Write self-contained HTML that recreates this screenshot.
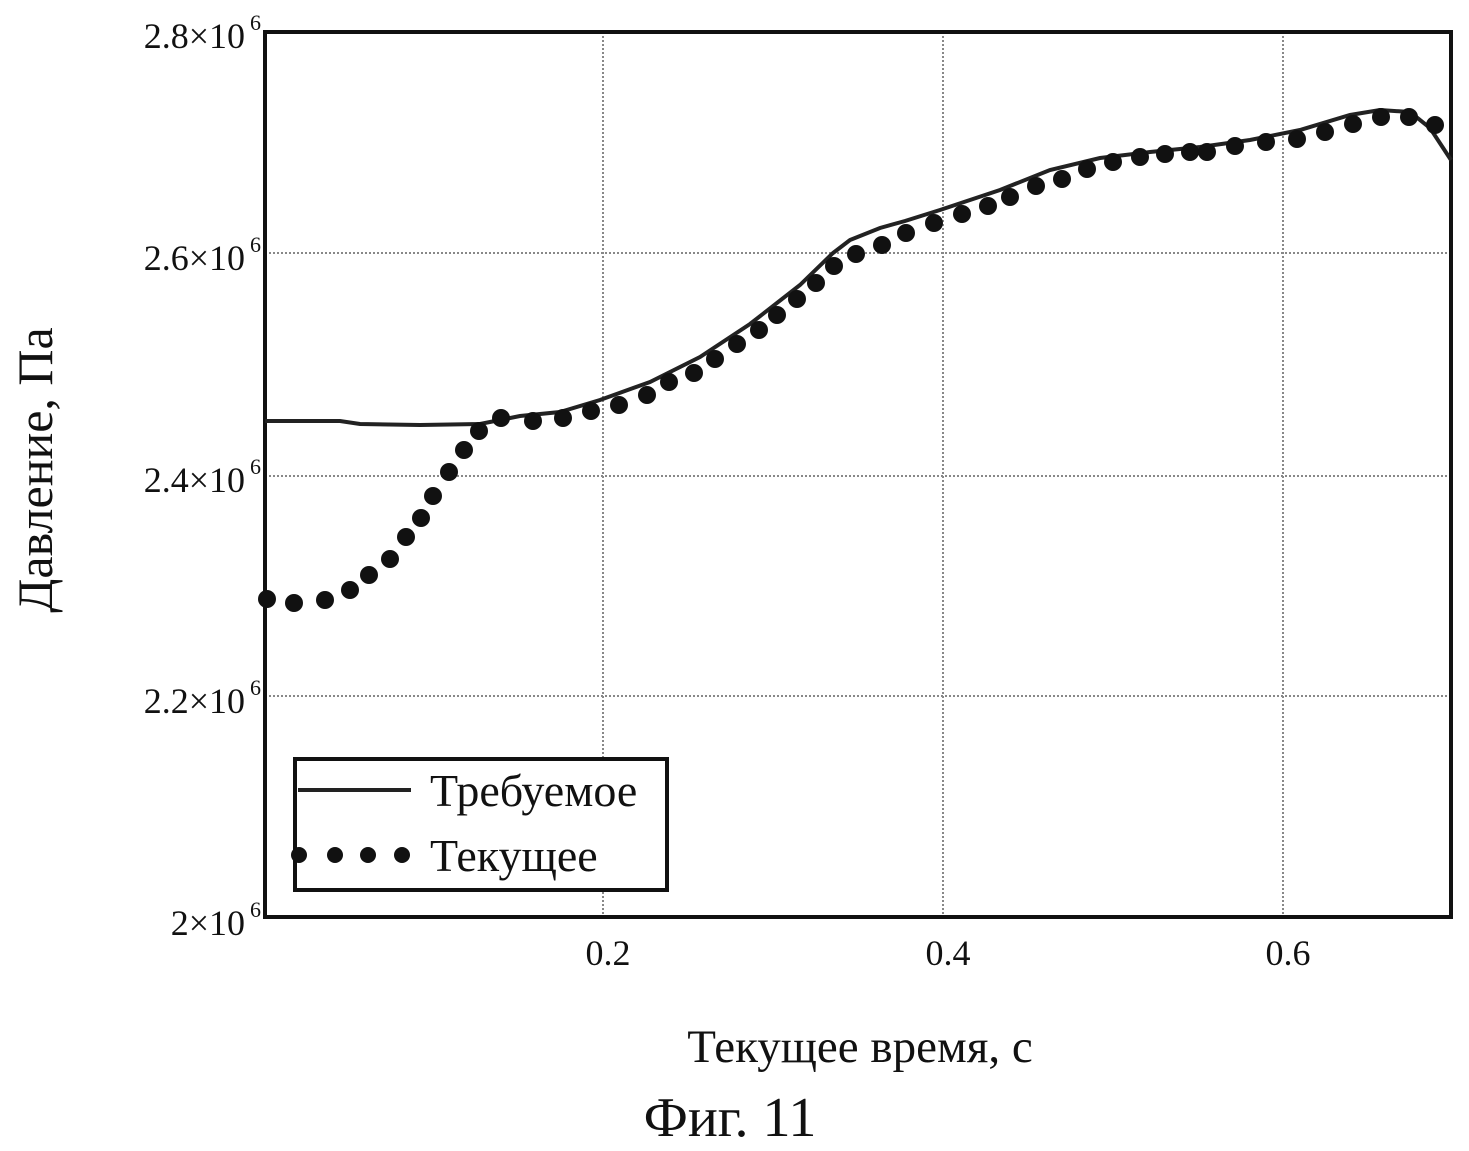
<!DOCTYPE html>
<html><head><meta charset="utf-8"><style>
html,body{margin:0;padding:0;background:#fff;}
svg{display:block;}
text{font-family:"Liberation Serif","DejaVu Serif",serif;fill:#111;}
</style></head><body>
<svg width="1469" height="1151" viewBox="0 0 1469 1151" xmlns="http://www.w3.org/2000/svg">
<g stroke="#888" stroke-width="2" stroke-dasharray="2,2">
<line x1="603" y1="32" x2="603" y2="917"/>
<line x1="943" y1="32" x2="943" y2="917"/>
<line x1="1283" y1="32" x2="1283" y2="917"/>
<line x1="265" y1="253" x2="1451" y2="253"/>
<line x1="265" y1="476" x2="1451" y2="476"/>
<line x1="265" y1="696" x2="1451" y2="696"/>
</g>
<rect x="265" y="32" width="1186" height="885" fill="none" stroke="#111" stroke-width="4"/>
<polyline fill="none" stroke="#222" stroke-width="4" points="265,421 340,421 360,424 420,425 480,424 520,416 560,412 600,400 650,382 700,357 750,324 800,285 833,253 850,240 880,228 905,221 940,210 1000,190 1050,170 1100,158 1150,152 1200,147 1250,140 1300,130 1350,115 1380,110 1410,112 1430,128 1451,160"/>
<g fill="#111">
<circle cx="267" cy="599" r="9"/><circle cx="294" cy="603" r="9"/><circle cx="325" cy="600" r="9"/><circle cx="350" cy="590" r="9"/><circle cx="369" cy="575" r="9"/><circle cx="390" cy="559" r="9"/><circle cx="406" cy="537" r="9"/><circle cx="421" cy="518" r="9"/><circle cx="433" cy="496" r="9"/><circle cx="449" cy="472" r="9"/><circle cx="464" cy="450" r="9"/><circle cx="479" cy="431" r="9"/><circle cx="501" cy="418" r="9"/><circle cx="533" cy="421" r="9"/><circle cx="563" cy="418" r="9"/><circle cx="591" cy="411" r="9"/><circle cx="619" cy="405" r="9"/><circle cx="647" cy="395" r="9"/><circle cx="669" cy="382" r="9"/><circle cx="694" cy="373" r="9"/><circle cx="715" cy="359" r="9"/><circle cx="737" cy="344" r="9"/><circle cx="759" cy="330" r="9"/><circle cx="777" cy="315" r="9"/><circle cx="797" cy="299" r="9"/><circle cx="816" cy="283" r="9"/><circle cx="834" cy="266" r="9"/><circle cx="856" cy="254" r="9"/><circle cx="882" cy="245" r="9"/><circle cx="906" cy="233" r="9"/><circle cx="934" cy="223" r="9"/><circle cx="962" cy="214" r="9"/><circle cx="988" cy="206" r="9"/><circle cx="1010" cy="197" r="9"/><circle cx="1036" cy="186" r="9"/><circle cx="1062" cy="179" r="9"/><circle cx="1087" cy="169" r="9"/><circle cx="1113" cy="162" r="9"/><circle cx="1140" cy="157" r="9"/><circle cx="1165" cy="154" r="9"/><circle cx="1190" cy="152" r="9"/><circle cx="1207" cy="152" r="9"/><circle cx="1235" cy="146" r="9"/><circle cx="1266" cy="142" r="9"/><circle cx="1297" cy="139" r="9"/><circle cx="1325" cy="132" r="9"/><circle cx="1353" cy="124" r="9"/><circle cx="1381" cy="117" r="9"/><circle cx="1409" cy="117" r="9"/><circle cx="1435" cy="125" r="9"/>
</g>
<rect x="295" y="759" width="372" height="131" fill="#fff" stroke="#111" stroke-width="4"/>
<line x1="298" y1="790" x2="411" y2="790" stroke="#222" stroke-width="4"/>
<g fill="#111"><circle cx="299" cy="855" r="8"/><circle cx="335" cy="855" r="8"/><circle cx="368" cy="855" r="8"/><circle cx="402" cy="855" r="8"/></g>
<text x="430" y="806" font-size="46">Требуемое</text>
<text x="430" y="871" font-size="46">Текущее</text>
<g font-size="36" text-anchor="end">
<text x="245" y="48">2.8×10</text><text x="261" y="30" font-size="22">6</text>
<text x="245" y="270">2.6×10</text><text x="261" y="252" font-size="22">6</text>
<text x="245" y="492">2.4×10</text><text x="261" y="474" font-size="22">6</text>
<text x="245" y="713">2.2×10</text><text x="261" y="695" font-size="22">6</text>
<text x="245" y="935">2×10</text><text x="261" y="917" font-size="22">6</text>
</g>
<g font-size="36" text-anchor="middle">
<text x="608" y="965">0.2</text><text x="948" y="965">0.4</text><text x="1288" y="965">0.6</text>
</g>
<text x="860" y="1062" font-size="47" text-anchor="middle">Текущее время, с</text>
<text x="730" y="1136" font-size="56" text-anchor="middle">Фиг. 11</text>
<text transform="translate(52,470) rotate(-90)" font-size="50" text-anchor="middle">Давление, Па</text>
</svg>
</body></html>
